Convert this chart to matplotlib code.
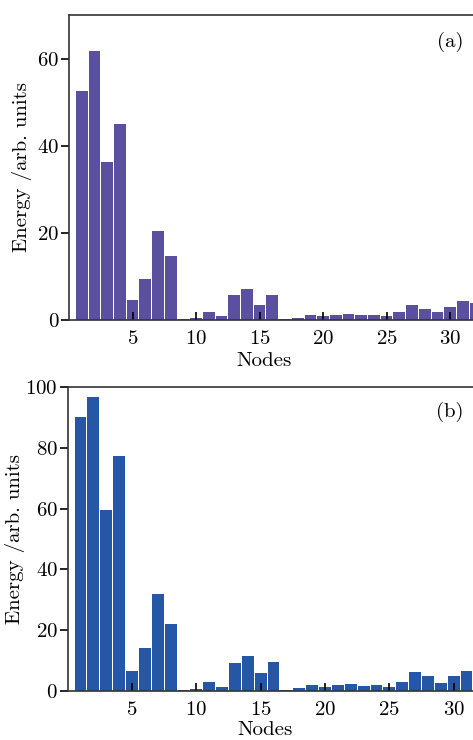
import matplotlib
matplotlib.use("Agg")
import matplotlib.pyplot as plt
import numpy as np

plt.rcParams['font.family'] = 'serif'
plt.rcParams['font.serif'] = ['cmr10', 'DejaVu Serif']
plt.rcParams['mathtext.fontset'] = 'cm'
plt.rcParams['axes.formatter.use_mathtext'] = True

# node indices
nodes_a = np.arange(1, 33)
nodes_b = np.arange(1, 32)

# energy per node, panel (a)
energy_a = [52.6, 61.8, 36.2, 45.0, 4.5, 9.3, 20.5, 14.6, 0.3, 0.5,
            1.8, 0.9, 5.7, 7.0, 3.5, 5.7, 0.2, 0.5, 1.1, 0.8,
            1.1, 1.3, 1.1, 1.1, 0.8, 1.9, 3.5, 2.6, 1.8, 3.0,
            4.3, 3.8]
# energy per node, panel (b)
energy_b = [90.1, 96.8, 59.5, 77.2, 6.6, 14.0, 31.9, 22.2, 0.3, 0.7,
            3.0, 1.3, 9.2, 11.5, 5.9, 9.5, 0.3, 0.9, 1.9, 1.3,
            2.0, 2.2, 1.8, 2.0, 1.3, 3.1, 6.1, 4.9, 2.8, 4.9,
            6.6]

xticks = [5, 10, 15, 20, 25, 30]
yticks_a = [0, 20, 40, 60]
yticks_b = [0, 20, 40, 60, 80, 100]

fig = plt.figure(figsize=(4.73, 7.4), dpi=100)
ax1 = fig.add_axes([0.146, 0.5676, 0.854, 0.4122])
ax2 = fig.add_axes([0.143, 0.0662, 0.857, 0.4108])


def style(ax, nodes, vals, color, ylim, yticks, xmax, label, lx, ly, ylab_x, xlab_x, xlab_y):
    ax.bar(nodes, vals, width=0.92, color=color, edgecolor='none')
    ax.set_xlim(0, xmax)
    ax.set_ylim(*ylim)
    ax.set_xticks(xticks)
    ax.set_yticks(yticks)
    ax.spines['right'].set_visible(False)
    for s in ['left', 'bottom', 'top']:
        ax.spines[s].set_linewidth(1.2)
        ax.spines[s].set_color('#333333')
    ax.tick_params(axis='x', direction='in', length=6, width=1.2, labelsize=15, pad=7)
    ax.tick_params(axis='y', direction='out', length=6, width=1.2, labelsize=15, pad=1)
    ax.set_xlabel('Nodes', fontsize=15)
    ax.set_ylabel('Energy /arb. units', fontsize=15)
    ax.xaxis.set_label_coords(xlab_x, xlab_y)
    ax.yaxis.set_label_coords(ylab_x, 0.5)
    ax.text(lx, ly, label, fontsize=15, ha='center', va='center')


style(ax1, nodes_a, energy_a, '#5b50a0', (0, 70), yticks_a, 31.8, '(a)', 30.0, 63.7,
      -0.092, 0.484, -0.105)
style(ax2, nodes_b, energy_b, '#2657a7', (0, 100), yticks_b, 31.5, '(b)', 29.7, 91.9,
      -0.105, 0.486, -0.100)

fig.savefig('out.png', dpi=100)
